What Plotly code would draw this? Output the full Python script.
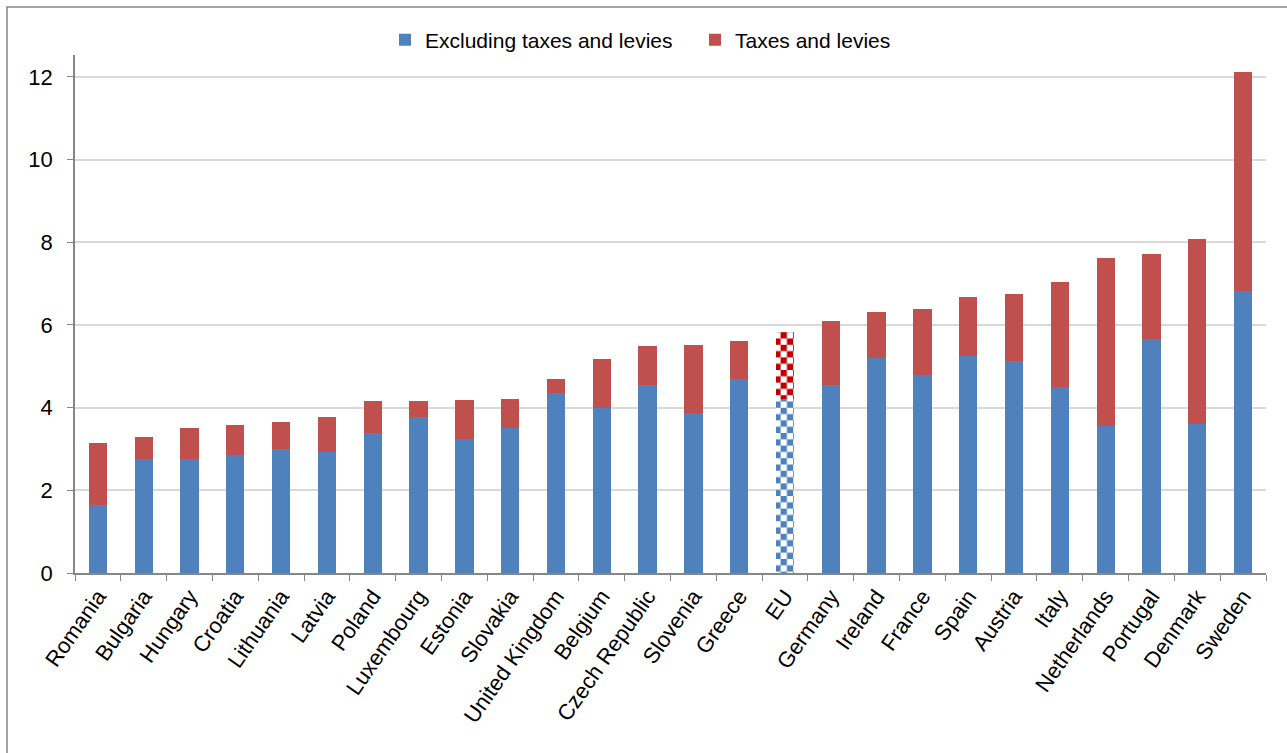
import plotly
import plotly.graph_objects as go

countries = ["Romania", "Bulgaria", "Hungary", "Croatia", "Lithuania", "Latvia", "Poland",
             "Luxembourg", "Estonia", "Slovakia", "United Kingdom", "Belgium", "Czech Republic",
             "Slovenia", "Greece", "EU", "Germany", "Ireland", "France", "Spain", "Austria",
             "Italy", "Netherlands", "Portugal", "Denmark", "Sweden"]
excl_taxes = [1.65, 2.76, 2.76, 2.85, 3.00, 2.93, 3.39, 3.77, 3.24, 3.51, 4.36, 3.99, 4.55,
              3.87, 4.69, 4.21, 4.55, 5.20, 4.79, 5.25, 5.13, 4.50, 3.56, 5.66, 3.60, 6.82]
totals = [3.15, 3.29, 3.51, 3.58, 3.65, 3.77, 4.16, 4.16, 4.19, 4.21, 4.69, 5.18, 5.49,
          5.52, 5.61, 5.83, 6.10, 6.31, 6.39, 6.68, 6.75, 7.04, 7.62, 7.72, 8.08, 12.12]
taxes = [round(t - e, 2) for t, e in zip(totals, excl_taxes)]
y_ticks = [0, 2, 4, 6, 8, 10, 12]

BLUE = "#4F81BD"
RED = "#C0504D"
EU_BLUE = "#4F81BD"
EU_RED = "#C00000"

reg_excl = [None if c == "EU" else v for c, v in zip(countries, excl_taxes)]
reg_tax = [None if c == "EU" else v for c, v in zip(countries, taxes)]
eu_excl = [v if c == "EU" else None for c, v in zip(countries, excl_taxes)]
eu_tax = [v if c == "EU" else None for c, v in zip(countries, taxes)]


def checker(color):
    base = dict(fgcolor=color, bgcolor="white", size=12.6, fillmode="replace")
    try:
        p = dict(base, path="M0,0H6.3V6.3H0Z M6.3,6.3H12.6V12.6H6.3Z")
        go.bar.marker.Pattern(**p)
        return p
    except Exception:
        return dict(base, shape="x", solidity=0.45, size=9)


fig = go.Figure()
fig.add_trace(go.Bar(x=countries, y=reg_excl, name="Excluding taxes and levies",
                     legendgroup="a", marker=dict(color=BLUE, line=dict(width=0))))
fig.add_trace(go.Bar(x=countries, y=eu_excl, name="Excluding taxes and levies",
                     legendgroup="a", showlegend=False,
                     marker=dict(color="white", line=dict(width=0), pattern=checker(EU_BLUE))))
fig.add_trace(go.Bar(x=countries, y=reg_tax, name="Taxes and levies",
                     legendgroup="b", marker=dict(color=RED, line=dict(width=0))))
fig.add_trace(go.Bar(x=countries, y=eu_tax, name="Taxes and levies",
                     legendgroup="b", showlegend=False,
                     marker=dict(color="white", line=dict(width=0), pattern=checker(EU_RED))))

L, R, T, B = 75, 21, 55, 180
W, H = 1287, 753
pw, ph = W - L - R, H - T - B

fig.update_layout(
    width=W, height=H,
    barmode="stack", bargap=0.6,
    margin=dict(l=L, r=R, t=T, b=B, autoexpand=False),
    paper_bgcolor="white", plot_bgcolor="white",
    font=dict(family="Liberation Sans, Arial, sans-serif", size=21, color="black"),
    legend=dict(
        orientation="h", xref="paper", yref="paper",
        x=(695 - L) / pw, xanchor="center", y=(T + ph - 40) / ph, yanchor="middle",
        font=dict(size=21), traceorder="normal", bgcolor="rgba(0,0,0,0)",
        entrywidth=265, entrywidthmode="pixels",
    ),
    showlegend=True,
    xaxis=dict(
        type="category", tickangle=-55, showgrid=False, automargin=False,
        showline=True, linecolor="#868686", linewidth=1.5,
        ticks="outside", tickson="boundaries", ticklen=6, tickcolor="#868686",
        tickfont=dict(size=22),
    ),
    yaxis=dict(
        range=[0, 12.53], tickvals=y_ticks, showgrid=True, gridcolor="#D9D9D9", gridwidth=1.5,
        showline=True, linecolor="#868686", linewidth=1.5, automargin=False,
        ticks="outside", ticklen=6, tickcolor="#868686", zeroline=False,
        tickfont=dict(size=22), ticklabelstandoff=10,
    ),
    shapes=[dict(
        type="rect", xref="paper", yref="paper",
        x0=(7 - L) / pw, x1=(W + 10 - L) / pw,
        y0=-(H + 10 - (T + ph)) / ph, y1=(T + ph - 7) / ph,
        line=dict(color="#868686", width=1.5), fillcolor="rgba(0,0,0,0)", layer="below",
    )],
)

fig.write_html("out.html", config={"displayModeBar": False},
               post_script="document.body.style.margin='0';")
